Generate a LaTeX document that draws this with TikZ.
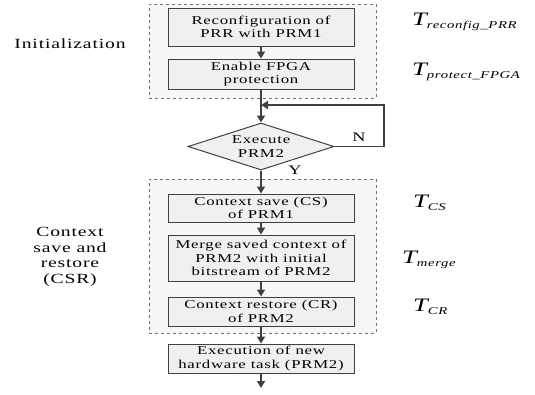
\documentclass[tikz,border=0pt]{standalone}
\usepackage{fontspec}
\setmainfont{Liberation Serif}[FakeStretch=1.4,LetterSpace=6]
\usetikzlibrary{arrows.meta,shapes.geometric}
\definecolor{boxfill}{HTML}{F0F0F0}
\definecolor{grpfill}{HTML}{F7F7F7}
\definecolor{edgecol}{HTML}{404040}
\definecolor{dashcol}{HTML}{707070}
\newcommand\Tlab[1]{{\fontsize{19}{19}\selectfont\itshape T}{\fontsize{10.5}{10.5}\selectfont\itshape\raisebox{-3pt}{#1}}}
\begin{document}
\begin{tikzpicture}[x=1pt,y=-1pt,
  procbox/.style={draw=edgecol, line width=1pt, fill=boxfill, minimum width=186pt, align=center, inner sep=0pt, font=\fontsize{12}{13.5}\selectfont},
  group/.style={draw=dashcol, dashed, line width=0.8pt, fill=grpfill, inner sep=0pt},
  flow/.style={draw=edgecol, line width=1.8pt, -{Triangle[width=8pt,length=7pt]}},
  tlabel/.style={anchor=west, inner sep=0pt},
  sidelabel/.style={align=center, inner sep=0pt, font=\fontsize{14}{15.5}\selectfont},
  yn/.style={inner sep=0pt, font=\fontsize{13}{13}\selectfont}
]
\useasboundingbox (0,0) rectangle (535,394);
% groups
\node[group, minimum width=227pt, minimum height=94pt] (gi) at (262.5,51) {};
\node[group, minimum width=227pt, minimum height=154pt] (gc) at (262.5,256) {};
% boxes
\node[procbox, minimum height=38pt] (b1) at (261,27) {Reconfiguration of\\PRR with PRM1};
\node[procbox, minimum height=30pt] (b2) at (261,74) {Enable FPGA\\protection};
\node[diamond, draw=edgecol, fill=boxfill, line width=1pt, minimum width=146pt, minimum height=47pt, inner sep=0pt] (d) at (261,146.5) {};
\node[align=center, inner sep=0pt, font=\fontsize{12}{13.5}\selectfont] (dt) at (d) {Execute\\PRM2};
\node[procbox, minimum height=28pt] (b3) at (261,208) {Context save (CS)\\of PRM1};
\node[procbox, minimum height=46pt] (b4) at (261,258) {Merge saved context of\\PRM2 with initial\\bitstream of PRM2};
\node[procbox, minimum height=29pt] (b5) at (261,311.5) {Context restore (CR)\\of PRM2};
\node[procbox, minimum height=29pt] (b6) at (261,358.5) {Execution of new\\hardware task (PRM2)};
\coordinate (fbR) at (384,105);
\coordinate (fbL) at (261,105);
\coordinate (endp) at (261,388);
% connectors
\draw[flow] (b1) -- (b2);
\draw[flow] (b2) -- (d);
\draw[flow] (d.east) -- (d.east -| fbR) -- (fbR) -- (fbL);
\draw[flow] (d) -- (b3);
\draw[flow] (b3) -- (b4);
\draw[flow] (b4) -- (b5);
\draw[flow] (b5) -- (b6);
\draw[flow] (b6) -- (endp);
% labels
\node[yn] (nl) at (359,137) {N};
\node[yn] (yl) at (295,170) {Y};
\node[sidelabel] (li) at (70,44) {Initialization};
\node[sidelabel] (lc) at (70,257) {Context\\save and\\restore\\(CSR)};
\node[tlabel] (t1) at (412,22) {\Tlab{reconfig\_PRR}};
\node[tlabel] (t2) at (412,72) {\Tlab{protect\_FPGA}};
\node[tlabel] (t3) at (413,203) {\Tlab{CS}};
\node[tlabel] (t4) at (402,260) {\Tlab{merge}};
\node[tlabel] (t5) at (413,307) {\Tlab{CR}};
\end{tikzpicture}
\end{document}
